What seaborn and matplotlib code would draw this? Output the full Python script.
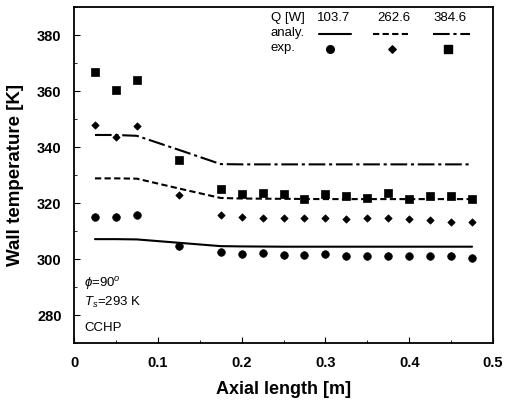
import numpy as np
import pandas as pd
import seaborn as sns
import matplotlib.pyplot as plt
from matplotlib.ticker import MultipleLocator

# axial positions [m]
x_exp = [0.025, 0.05, 0.075, 0.125, 0.175, 0.2, 0.225, 0.25, 0.275, 0.3,
         0.325, 0.35, 0.375, 0.4, 0.425, 0.45, 0.475]
x_ana = [0.025, 0.05, 0.075, 0.125, 0.175, 0.2, 0.25, 0.3, 0.35, 0.4, 0.45, 0.475]

powers = ["103.7", "262.6", "384.6"]

# experimental wall temperatures [K]
exp_1037 = [315.0, 315.0, 315.6, 304.6, 302.4, 301.7, 302.3, 301.4, 301.3, 301.9,
            301.1, 301.1, 301.1, 300.9, 301.1, 300.9, 300.5]
exp_2626 = [347.8, 343.4, 347.5, 322.9, 315.8, 315.0, 314.8, 314.5, 314.5, 314.8,
            314.2, 314.5, 314.5, 314.2, 313.9, 313.2, 313.2]
exp_3846 = [366.8, 360.5, 364.0, 335.2, 324.9, 323.1, 323.4, 323.1, 321.6, 323.1,
            322.5, 321.9, 323.4, 321.6, 322.5, 322.5, 321.6]

# analytical wall temperatures [K]
ana_1037 = [307.1, 307.1, 307.0, 305.8, 304.6, 304.5, 304.4, 304.4, 304.4, 304.4, 304.4, 304.4]
ana_2626 = [328.8, 328.8, 328.7, 325.2, 321.8, 321.6, 321.5, 321.4, 321.4, 321.4, 321.4, 321.4]
ana_3846 = [344.3, 344.3, 344.0, 339.0, 333.9, 333.8, 333.8, 333.8, 333.8, 333.8, 333.8, 333.8]

df_exp = pd.DataFrame({
    "x": x_exp * 3,
    "T": exp_1037 + exp_2626 + exp_3846,
    "Q": sum([[p] * len(x_exp) for p in powers], []),
})
df_ana = pd.DataFrame({
    "x": x_ana * 3,
    "T": ana_1037 + ana_2626 + ana_3846,
    "Q": sum([[p] * len(x_ana) for p in powers], []),
})

sns.set_style("ticks")
plt.rcParams["font.family"] = ["Liberation Sans", "DejaVu Sans"]
plt.rcParams["mathtext.fontset"] = "custom"
plt.rcParams["mathtext.it"] = "Liberation Sans:italic"
plt.rcParams["mathtext.rm"] = "Liberation Sans"
for k in ["text.color", "axes.labelcolor", "xtick.color", "ytick.color", "axes.edgecolor"]:
    plt.rcParams[k] = "black"

fig = plt.figure(figsize=(5.09, 4.01), dpi=100)
ax = fig.add_axes([0.1454, 0.1446, 0.8232, 0.8379])

dash_map = {"103.7": "", "262.6": (3, 1.6), "384.6": (8, 1.8, 1.5, 1.8)}
marker_map = {"103.7": "o", "262.6": "D", "384.6": "s"}
size_map = {"103.7": 30, "262.6": 14, "384.6": 34}

sns.lineplot(data=df_ana, x="x", y="T", hue="Q", style="Q", dashes=dash_map,
             palette=["black"] * 3, linewidth=1.5, legend=False, ax=ax)
for p in powers:
    d = df_exp[df_exp["Q"] == p]
    sns.scatterplot(x=d["x"], y=d["T"], marker=marker_map[p], s=size_map[p],
                    color="black", edgecolor="black", linewidth=0.5,
                    legend=False, ax=ax)

ax.set_xlim(0, 0.5)
ax.set_ylim(270, 390)
ax.xaxis.set_minor_locator(MultipleLocator(0.05))
ax.yaxis.set_minor_locator(MultipleLocator(10))
ax.set_xticks([0, 0.1, 0.2, 0.3, 0.4, 0.5])
ax.set_xticklabels(["0", "0.1", "0.2", "0.3", "0.4", "0.5"])
ax.set_yticks([280, 300, 320, 340, 360, 380])
ax.tick_params(which="both", direction="in", top=False, right=False, colors="black")
ax.tick_params(which="major", length=4, labelsize=10.5, pad=9)
ax.tick_params(which="minor", length=2.5)
for lab in ax.get_xticklabels() + ax.get_yticklabels():
    lab.set_fontweight("bold")
for s in ax.spines.values():
    s.set_linewidth(1.3)
    s.set_color("black")

ax.set_xlabel("Axial length [m]", fontsize=13, fontweight="bold", labelpad=8)
ax.set_ylabel("Wall temperature [K]", fontsize=13.5, fontweight="bold", labelpad=9)

# legend table in the upper right
ax.text(0.235, 386.2, "Q [W]", fontsize=9.5, va="center")
xc = [0.31, 0.3815, 0.449]
for xi, p in zip(xc, powers):
    ax.text(xi, 386.2, p, fontsize=9.5, va="center", ha="center")
ax.text(0.235, 380.8, "analy.", fontsize=9.5, va="center")
ax.text(0.235, 375.3, "exp.", fontsize=9.5, va="center")
xs = [(0.292, 0.330), (0.357, 0.401), (0.428, 0.473)]
xm = [0.3055, 0.3795, 0.446]
for (a, b), xi, p in zip(xs, xm, powers):
    ln, = ax.plot([a, b], [380.2, 380.2], color="black", lw=1.5)
    if dash_map[p]:
        ln.set_dashes(dash_map[p])
    ax.scatter([xi], [375.0], marker=marker_map[p], s=size_map[p], color="black")

ax.text(0.012, 291.3, r"$\phi$=90$^o$", fontsize=9.5, va="center")
ax.text(0.012, 284.6, r"$T_s$=293 K", fontsize=9.5, va="center")
ax.text(0.012, 275.2, "CCHP", fontsize=9.5, va="center")

fig.savefig("out.png", dpi=100)
